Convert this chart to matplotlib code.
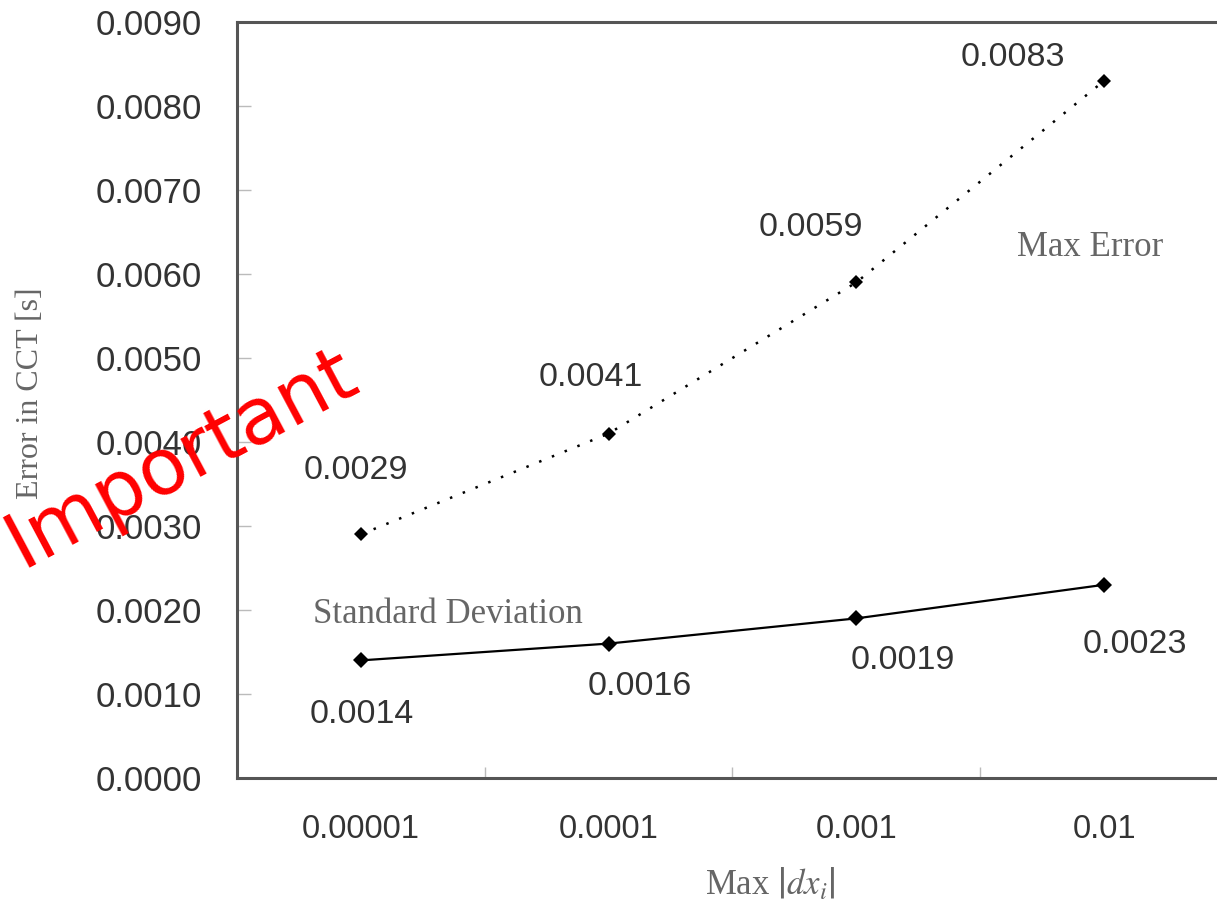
import matplotlib
matplotlib.use("Agg")
import matplotlib.pyplot as plt
import numpy as np

# data
step_labels = ["0.00001", "0.0001", "0.001", "0.01"]
max_error = [0.0029, 0.0041, 0.0059, 0.0083]
std_dev = [0.0014, 0.0016, 0.0019, 0.0023]
y_ticks = [0.0, 0.001, 0.002, 0.003, 0.004, 0.005, 0.006, 0.007, 0.008, 0.009]

# label offsets in pixels (x, y) relative to each marker
max_offsets = [(-5, 64), (-18, 56), (-45, 55), (-91, 23)]
std_offsets = [(1, -54), (31, -43), (46, -42), (31, -60)]

SANS = "Liberation Sans"
SERIF = "Liberation Serif"
plt.rcParams["mathtext.fontset"] = "stix"

fig = plt.figure(figsize=(12.17, 9.06), dpi=100)
# axes runs slightly past the right edge, as in the cropped original
ax = fig.add_axes([0.1947, 0.1413, 0.8143, 0.8344])

x = np.arange(len(step_labels))
ax.plot(x, max_error, color="black", linestyle=(0, (1, 4.5)), linewidth=1.8,
        marker="D", markersize=7, markerfacecolor="black", markeredgewidth=0)
ax.plot(x, std_dev, color="black", linestyle="-", linewidth=1.6,
        marker="D", markersize=8, markerfacecolor="black", markeredgewidth=0)

for xi, v, off in zip(x, max_error, max_offsets):
    ax.annotate(f"{v:.4f}", (xi, v), xytext=off, textcoords="offset pixels",
                ha="center", va="center", fontsize=24.5, family=SANS, color="#333333")
for xi, v, off in zip(x, std_dev, std_offsets):
    ax.annotate(f"{v:.4f}", (xi, v), xytext=off, textcoords="offset pixels",
                ha="center", va="center", fontsize=24.5, family=SANS, color="#333333")

ax.text(2.943, 0.00631, "Max Error", ha="center", va="center",
        fontsize=25, family=SERIF, color="#666666")
ax.text(0.351, 0.00195, "Standard Deviation", ha="center", va="center",
        fontsize=25, family=SERIF, color="#666666")

ax.set_xlim(-0.5, 3.5)
ax.set_ylim(0, 0.009)

# category labels at centres, small tick marks at the boundaries
ax.set_xticks(x)
ax.set_xticklabels(step_labels)
ax.set_xticks(x[:-1] + 0.5, minor=True)
ax.tick_params(axis="x", which="major", length=0, pad=26, labelsize=23.5,
               labelcolor="#333333")
ax.tick_params(axis="x", which="minor", direction="in", length=8, width=1,
               color="#bbbbbb")

ax.set_yticks(y_ticks)
ax.set_yticklabels([f"{t:.4f}" for t in y_ticks])
ax.tick_params(axis="y", direction="in", length=10, width=1, color="#bbbbbb",
               pad=25, labelsize=25, labelcolor="#333333")
for lab in ax.get_xticklabels() + ax.get_yticklabels():
    lab.set_family(SANS)

for side in ["left", "top", "bottom", "right"]:
    ax.spines[side].set_color("#555555")
    ax.spines[side].set_linewidth(2.2)

fig.text(31 / 1217, 1 - 393 / 906, "Error in CCT [s]", rotation=90,
         ha="center", va="center", fontsize=23, family=SERIF, color="#666666")
fig.text(770 / 1217, 1 - 884 / 906, r"Max $\left|dx_i\right|$",
         ha="center", va="center", fontsize=25, family=SERIF, color="#666666")

# watermark
fig.text(182 / 1217, 1 - 458 / 906, "Important", rotation=28,
         ha="center", va="center", fontsize=56, family="DejaVu Sans", color="red")

fig.savefig("out.png", dpi=100)
